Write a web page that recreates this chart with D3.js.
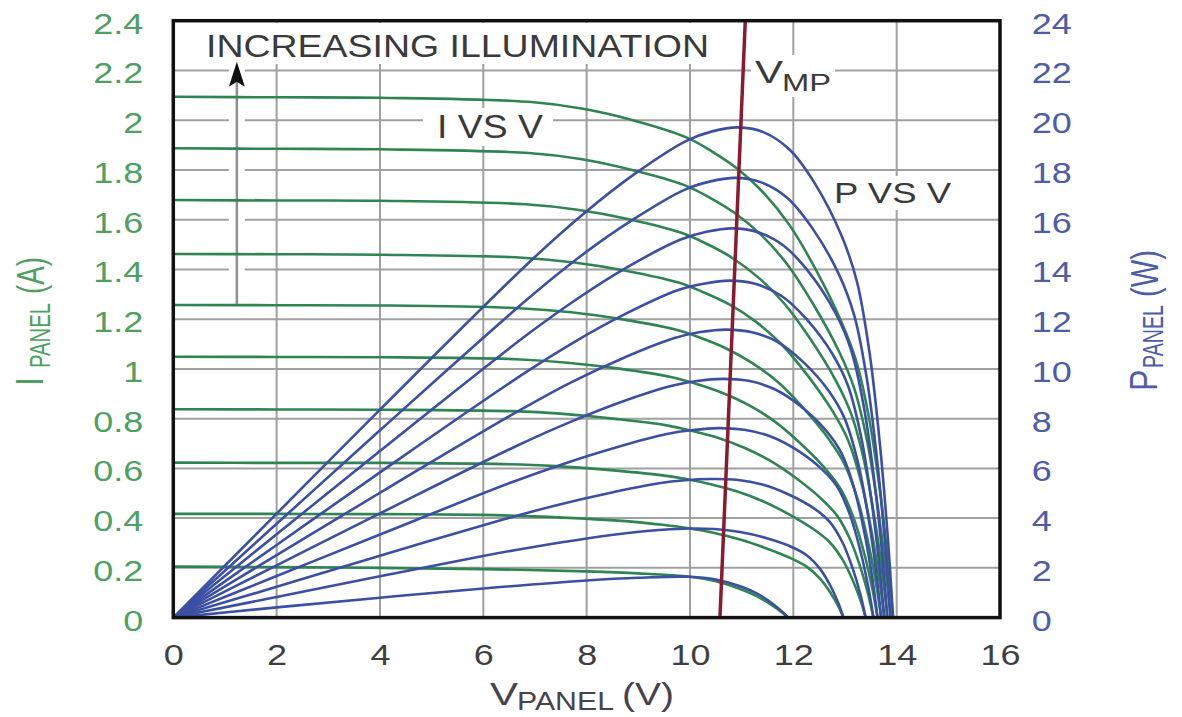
<!DOCTYPE html>
<html><head><meta charset="utf-8">
<script src="https://cdn.jsdelivr.net/npm/d3@7"></script>
<style>html,body{margin:0;padding:0;background:#fff;} svg{display:block;}</style>
</head><body>
<svg id="chart" width="1182" height="717"></svg>
<script>
// ---- data ----
const voltageTicks = [0, 2, 4, 6, 8, 10, 12, 14, 16];
const currentTicks = [0, 0.2, 0.4, 0.6, 0.8, 1, 1.2, 1.4, 1.6, 1.8, 2, 2.2, 2.4];
const powerTicks = [0, 2, 4, 6, 8, 10, 12, 14, 16, 18, 20, 22, 24];

// one row per illumination level (lowest first)
const voltages = [
  [0,2,4,6,8,9,10,10.5,11,11.3,11.6,11.8,11.9],
  [0,2,4,5.97,6.97,7.97,8.97,9.47,9.97,10.47,10.97,11.47,11.97,12.27,12.52,12.72,12.87,12.97],
  [0,2,4,6.40,7.40,8.40,9.40,9.90,10.40,10.90,11.40,11.90,12.40,12.70,12.95,13.15,13.30,13.40],
  [0,2,4,6.55,7.55,8.55,9.55,10.05,10.55,11.05,11.55,12.05,12.55,12.85,13.10,13.30,13.45,13.55],
  [0,2,4,6.63,7.63,8.63,9.63,10.13,10.63,11.13,11.63,12.13,12.63,12.93,13.18,13.38,13.53,13.63],
  [0,2,4,6.70,7.70,8.70,9.70,10.20,10.70,11.20,11.70,12.20,12.70,13.00,13.25,13.45,13.60,13.70],
  [0,2,4,6.76,7.76,8.76,9.76,10.26,10.76,11.26,11.76,12.26,12.76,13.06,13.31,13.51,13.66,13.76],
  [0,2,4,6.82,7.82,8.82,9.82,10.32,10.82,11.32,11.82,12.32,12.82,13.12,13.37,13.57,13.72,13.82],
  [0,2,4,6.88,7.88,8.88,9.88,10.38,10.88,11.38,11.88,12.38,12.88,13.18,13.43,13.63,13.78,13.88],
  [0,2,4,6.93,7.93,8.93,9.93,10.43,10.93,11.43,11.93,12.43,12.93,13.23,13.48,13.68,13.83,13.93]
];
const currents = [
  [0.205,0.203,0.200,0.195,0.186,0.178,0.164,0.146,0.113,0.085,0.048,0.018,0],
  [0.417,0.417,0.416,0.413,0.407,0.398,0.384,0.373,0.359,0.340,0.314,0.279,0.237,0.203,0.156,0.100,0.046,0],
  [0.623,0.622,0.622,0.617,0.609,0.594,0.574,0.558,0.536,0.508,0.469,0.417,0.354,0.304,0.234,0.150,0.069,0],
  [0.838,0.837,0.836,0.830,0.819,0.799,0.773,0.750,0.722,0.683,0.631,0.561,0.476,0.409,0.314,0.201,0.092,0],
  [1.049,1.048,1.047,1.039,1.025,1.001,0.967,0.939,0.903,0.855,0.790,0.702,0.596,0.512,0.393,0.252,0.115,0],
  [1.257,1.256,1.255,1.244,1.228,1.199,1.159,1.125,1.082,1.024,0.947,0.841,0.714,0.613,0.471,0.302,0.138,0],
  [1.462,1.461,1.459,1.447,1.428,1.395,1.348,1.308,1.259,1.192,1.101,0.978,0.830,0.713,0.548,0.351,0.161,0],
  [1.679,1.677,1.676,1.662,1.640,1.602,1.548,1.503,1.446,1.368,1.264,1.123,0.954,0.819,0.630,0.403,0.185,0],
  [1.887,1.885,1.883,1.868,1.844,1.800,1.740,1.689,1.625,1.538,1.421,1.262,1.072,0.921,0.708,0.453,0.208,0],
  [2.094,2.092,2.090,2.073,2.046,1.998,1.931,1.874,1.803,1.707,1.577,1.401,1.189,1.022,0.785,0.503,0.230,0]
];
const powers = [
  [0,0.41,0.80,1.17,1.49,1.60,1.64,1.53,1.24,0.96,0.56,0.21,0],
  [0,0.83,1.66,2.47,2.84,3.17,3.44,3.53,3.58,3.56,3.44,3.20,2.84,2.49,1.95,1.27,0.59,0],
  [0,1.24,2.49,3.95,4.51,4.99,5.40,5.52,5.57,5.54,5.35,4.96,4.39,3.86,3.03,1.97,0.92,0],
  [0,1.67,3.34,5.44,6.18,6.83,7.38,7.54,7.62,7.55,7.29,6.76,5.97,5.26,4.11,2.67,1.24,0],
  [0,2.10,4.19,6.89,7.82,8.64,9.31,9.51,9.60,9.52,9.19,8.52,7.53,6.62,5.18,3.37,1.56,0],
  [0,2.51,5.02,8.33,9.46,10.43,11.24,11.48,11.58,11.47,11.08,10.26,9.07,7.97,6.24,4.06,1.88,0],
  [0,2.92,5.84,9.78,11.08,12.22,13.16,13.42,13.55,13.42,12.95,11.99,10.59,9.31,7.29,4.74,2.20,0],
  [0,3.35,6.70,11.33,12.82,14.13,15.20,15.51,15.65,15.49,14.94,13.84,12.23,10.75,8.42,5.47,2.54,0],
  [0,3.77,7.53,12.85,14.53,15.98,17.19,17.53,17.68,17.50,16.88,15.62,13.81,12.14,9.51,6.17,2.87,0],
  [0,4.18,8.36,14.37,16.22,17.84,19.17,19.55,19.71,19.51,18.81,17.41,15.37,13.52,10.58,6.88,3.18,0]
];
// maximum-power-point line (V, P) at both ends
const vmpLine = [[10.58, 0], [11.07, 24]];
// "increasing illumination" arrow: at V, from I to I
const arrowV = 1.23, arrowFrom = 1.26, arrowTo = 2.235;

// ---- drawing ----
const svg = d3.select("#chart");
const FONT = "'Liberation Sans', Arial, Helvetica, sans-serif";
const SX = 1.2;
const GREEN = "#2f8452", BLUE = "#3b4fa3", GREEN_T = "#4f9f62", BLUE_T = "#4d5da8", TXT = "#3a3a3a";

const x = d3.scaleLinear().domain([0, 16]).range([173.3, 1000]);
const yI = d3.scaleLinear().domain([0, 2.4]).range([617.6, 20.7]);
const yP = d3.scaleLinear().domain([0, 24]).range([617.6, 20.7]);

svg.append("rect").attr("width", 1182).attr("height", 717).attr("fill", "#fff");

// grid
const grid = svg.append("g").attr("stroke", "#a0a0a0").attr("stroke-width", 2);
grid.selectAll("line.gv").data(voltageTicks.slice(1, -1)).join("line").attr("class", "gv")
  .attr("x1", d => x(d)).attr("x2", d => x(d)).attr("y1", yI(2.4)).attr("y2", yI(0));
grid.selectAll("line.gh").data(currentTicks.slice(1, -1)).join("line").attr("class", "gh")
  .attr("y1", d => yI(d)).attr("y2", d => yI(d)).attr("x1", x(0)).attr("x2", x(16));

// white label backgrounds
const boxes = [
  [198, 23, 516, 41],   // INCREASING ILLUMINATION
  [423, 108, 130, 38],  // I VS V
  [826, 176, 132, 34],  // P VS V
  [751, 55, 84, 42]     // VMP
];
svg.append("g").selectAll("rect").data(boxes).join("rect")
  .attr("x", d => d[0]).attr("y", d => d[1]).attr("width", d => d[2]).attr("height", d => d[3])
  .attr("fill", "#fff");

// arrow with white halo
svg.append("line").attr("x1", x(arrowV)).attr("x2", x(arrowV))
  .attr("y1", yI(arrowFrom)).attr("y2", yI(arrowTo) + 4)
  .attr("stroke", "#fff").attr("stroke-width", 16);
svg.append("line").attr("x1", x(arrowV)).attr("x2", x(arrowV))
  .attr("y1", yI(arrowFrom)).attr("y2", yI(arrowTo) + 12)
  .attr("stroke", "#8f8f8f").attr("stroke-width", 2.5);
{
  const ax = x(arrowV), ay = yI(arrowTo);
  svg.append("path")
    .attr("d", `M${ax},${ay} L${ax + 8},${ay + 25} L${ax},${ay + 20} L${ax - 8},${ay + 25} Z`)
    .attr("fill", "#111");
}

// curves
const ivLine = d3.line().x(d => x(d[0])).y(d => yI(d[1])).curve(d3.curveCatmullRom.alpha(0.5));
const pvLine = d3.line().x(d => x(d[0])).y(d => yP(d[1])).curve(d3.curveCatmullRom.alpha(0.5));
const ivData = voltages.map((vs, k) => vs.map((v, j) => [v, currents[k][j]]));
const pvData = voltages.map((vs, k) => vs.map((v, j) => [v, powers[k][j]]));

svg.append("g").selectAll("path").data(ivData).join("path")
  .attr("d", ivLine).attr("fill", "none").attr("stroke", GREEN).attr("stroke-width", 2.6);
svg.append("g").selectAll("path").data(pvData).join("path")
  .attr("d", pvLine).attr("fill", "none").attr("stroke", BLUE).attr("stroke-width", 2.6);

// VMP line
svg.append("path").datum(vmpLine)
  .attr("d", d3.line().x(d => x(d[0])).y(d => yP(d[1])))
  .attr("stroke", "#8a1a30").attr("stroke-width", 3.5).attr("fill", "none");

// frame
svg.append("rect").attr("x", x(0)).attr("y", yI(2.4))
  .attr("width", x(16) - x(0)).attr("height", yI(0) - yI(2.4))
  .attr("fill", "none").attr("stroke", "#111").attr("stroke-width", 3.5);

// axes
function styleTicks(g, color, xa, ya) {
  g.select(".domain").remove();
  g.selectAll("text").attr("x", xa).attr("y", ya).attr("dy", null)
    .attr("transform", `scale(${SX},1)`).attr("fill", color)
    .style("font-size", "30px").style("font-family", FONT);
}
svg.append("g").attr("transform", `translate(${x(0)},0)`)
  .call(d3.axisLeft(yI).tickValues(currentTicks).tickFormat(d => String(d)).tickSize(0))
  .call(g => styleTicks(g, GREEN_T, -25, 12.5));
svg.append("g").attr("transform", `translate(${x(16)},0)`)
  .call(d3.axisRight(yP).tickValues(powerTicks).tickFormat(d => String(d)).tickSize(0))
  .call(g => styleTicks(g, BLUE_T, 26.5, 12.5));
svg.append("g").attr("transform", `translate(0,${yI(0)})`)
  .call(d3.axisBottom(x).tickValues(voltageTicks).tickFormat(d => String(d)).tickSize(0))
  .call(g => styleTicks(g, "#3f3f3f", 0, 47.5));

// plain texts
function label(t, xx, yy, fs, len, color) {
  const el = svg.append("text").attr("x", xx).attr("y", yy)
    .attr("font-size", fs).attr("font-family", FONT).attr("fill", color || TXT).text(t);
  if (len) el.attr("textLength", len).attr("lengthAdjust", "spacingAndGlyphs");
  return el;
}
label("INCREASING ILLUMINATION", 206, 57, 32, 503);
label("I VS V", 437, 138, 33, 106);
label("P VS V", 834, 203, 30, 117);
label("V", 755, 83, 32, 28);
label("MP", 782, 91, 24, 49);

// bottom axis title
label("V", 490, 705, 32, 28, "#47434d");
label("PANEL", 517, 710, 25, 97, "#47434d");
label("(V)", 622, 705, 32, 52, "#47434d");

// rotated axis titles
function rotLabel(parts, color) {
  parts.forEach(p => {
    const el = svg.append("text")
      .attr("transform", `translate(${p.bx},${p.y}) scale(${SX},1) rotate(-90)`)
      .attr("font-size", p.fs).attr("font-family", FONT).attr("fill", color).text(p.t);
    if (p.len) el.attr("textLength", p.len).attr("lengthAdjust", "spacingAndGlyphs");
  });
}
rotLabel([
  { t: "I", bx: 43, y: 386, fs: 32 },
  { t: "PANEL", bx: 50, y: 368, fs: 24, len: 65 },
  { t: "(A)", bx: 44, y: 294, fs: 32, len: 37 }
], GREEN_T);
rotLabel([
  { t: "P", bx: 1157, y: 391, fs: 32 },
  { t: "PANEL", bx: 1163, y: 368, fs: 24, len: 63 },
  { t: "(W)", bx: 1158, y: 297, fs: 32, len: 47 }
], BLUE_T);
</script>
</body></html>
